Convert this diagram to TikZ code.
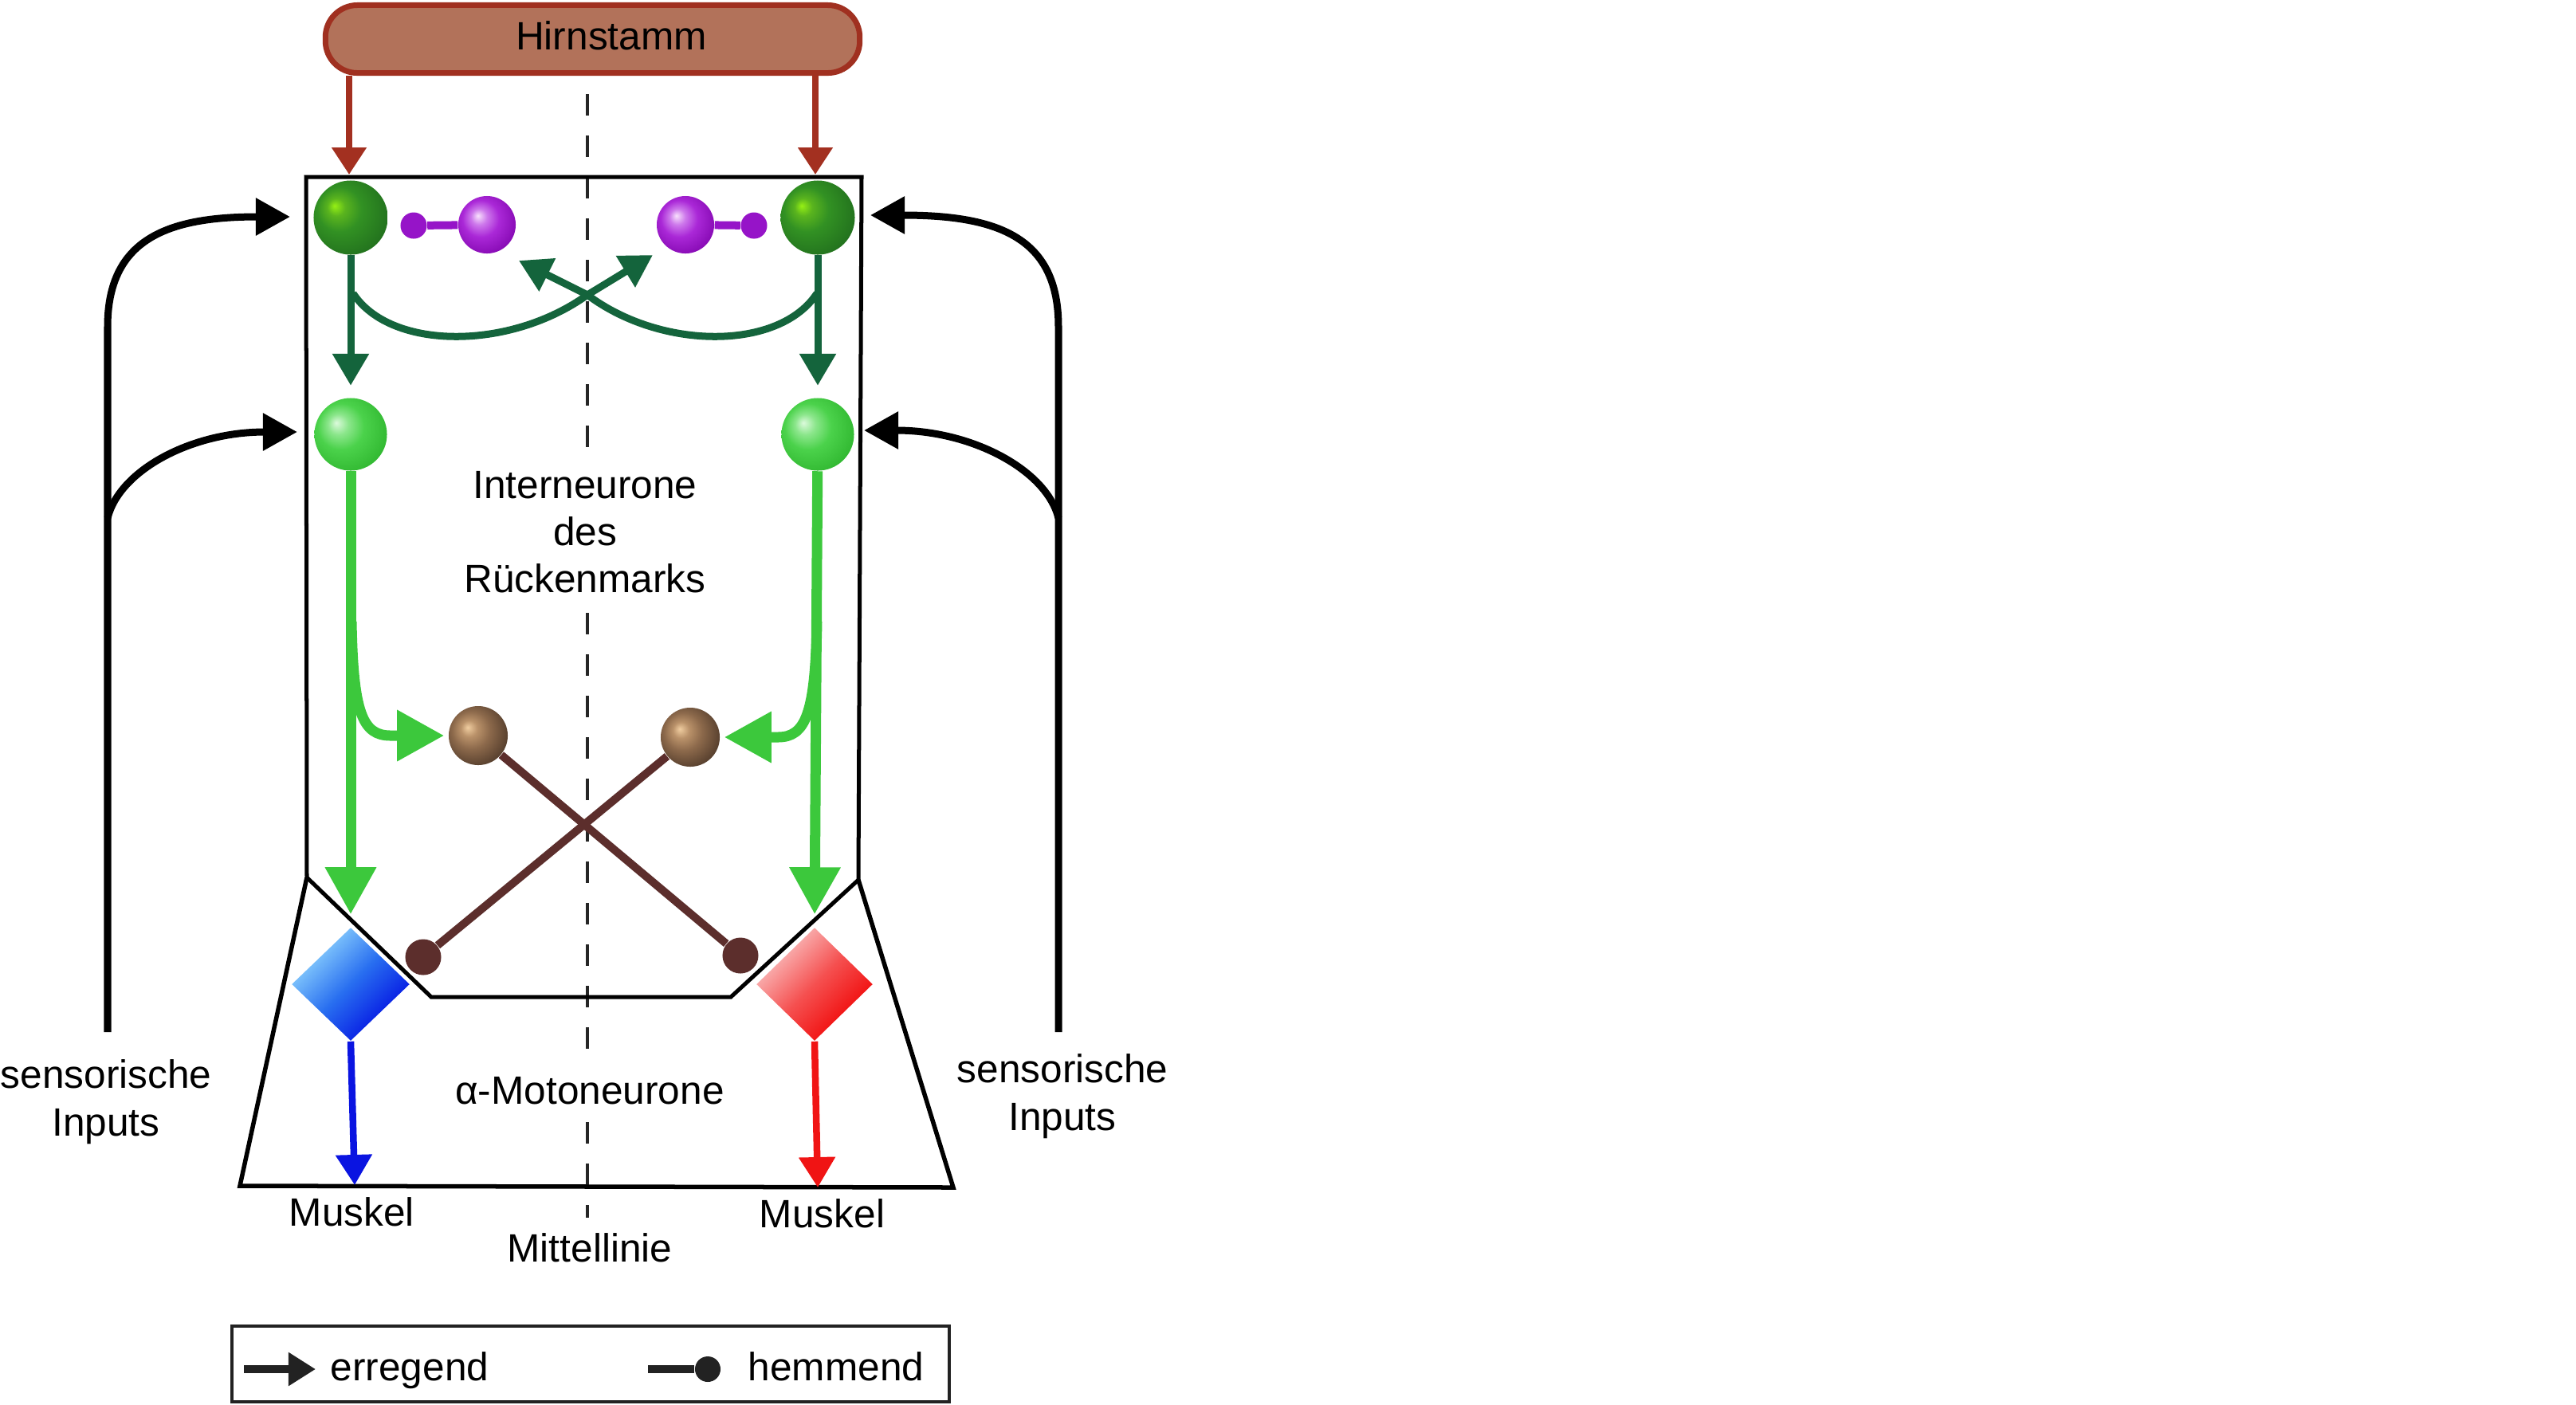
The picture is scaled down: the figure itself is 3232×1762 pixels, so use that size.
\documentclass[tikz,border=0pt]{standalone}
\usepackage{fontspec}
\setmainfont{Liberation Sans}
\usetikzlibrary{arrows.meta,shapes.geometric}

\definecolor{hirnfill}{RGB}{178,114,90}
\definecolor{hirnline}{RGB}{160,48,32}
\definecolor{redarrow}{RGB}{163,48,32}
\definecolor{dgline}{RGB}{20,100,60}
\definecolor{lgline}{RGB}{60,200,60}
\definecolor{purp}{RGB}{150,20,200}
\definecolor{brline}{RGB}{92,46,44}
\definecolor{bluec}{RGB}{10,20,225}
\definecolor{redc}{RGB}{240,20,20}
\definecolor{legc}{RGB}{34,34,34}
\definecolor{blA}{RGB}{150,220,255}
\definecolor{blB}{RGB}{40,110,240}
\definecolor{blC}{RGB}{0,10,225}
\definecolor{rdA}{RGB}{250,200,200}
\definecolor{rdB}{RGB}{245,80,80}
\definecolor{rdC}{RGB}{240,0,0}

\definecolor{dgA}{RGB}{150,240,20}
\definecolor{dgB}{RGB}{90,180,30}
\definecolor{dgC}{RGB}{50,145,35}
\definecolor{dgD}{RGB}{35,115,30}
\definecolor{lgA}{RGB}{220,250,220}
\definecolor{lgB}{RGB}{140,230,140}
\definecolor{lgC}{RGB}{75,210,75}
\definecolor{lgD}{RGB}{50,185,50}
\definecolor{puA}{RGB}{248,225,252}
\definecolor{puB}{RGB}{205,120,235}
\definecolor{puC}{RGB}{170,40,215}
\definecolor{puD}{RGB}{135,10,180}
\definecolor{brA}{RGB}{240,205,160}
\definecolor{brB}{RGB}{185,145,105}
\definecolor{brC}{RGB}{140,105,75}
\definecolor{brD}{RGB}{85,62,45}

\pgfdeclareradialshading{dgball}{\pgfpoint{-11bp}{8bp}}{color(0bp)=(dgA); color(6bp)=(dgB); color(15bp)=(dgC); color(30bp)=(dgD); color(50bp)=(dgD)}
\pgfdeclareradialshading{lgball}{\pgfpoint{-10bp}{8bp}}{color(0bp)=(lgA); color(7bp)=(lgB); color(16bp)=(lgC); color(30bp)=(lgD); color(50bp)=(lgD)}
\pgfdeclareradialshading{puball}{\pgfpoint{-8bp}{8bp}}{color(0bp)=(puA); color(7bp)=(puB); color(16bp)=(puC); color(30bp)=(puD); color(50bp)=(puD)}
\pgfdeclareradialshading{brball}{\pgfpoint{-9bp}{7bp}}{color(0bp)=(brA); color(7bp)=(brB); color(16bp)=(brC); color(30bp)=(brD); color(50bp)=(brD)}

\begin{document}
\begin{tikzpicture}[x=0.01cm,y=-0.01cm,
  lbl/.style={font=\fontsize{14.1pt}{17pt}\selectfont, inner sep=0pt, anchor=base, text=black},
  sphere/.style={circle, inner sep=0pt, minimum size=#1, draw=none},
  frame/.style={draw=black, line width=0.05cm, line join=miter},
  midline/.style={draw=black!85, line width=0.04cm, dash pattern=on 0.27cm off 0.25cm},
  redarr/.style={draw=redarrow, line width=0.08cm, -{Triangle[length=0.34cm,width=0.42cm]}},
  dgarr/.style={draw=dgline, line width=0.09cm, -{Triangle[length=0.40cm,width=0.44cm]}},
  lgarr/.style={draw=lgline, line width=0.13cm, -{Triangle[length=0.59cm,width=0.61cm]}},
  blarr/.style={draw=black, line width=0.09cm, -{Triangle[length=0.43cm,width=0.45cm]}},
  mnarr/.style={line width=0.085cm, -{Triangle[length=0.38cm,width=0.44cm]}},
  brlink/.style={draw=brline, line width=0.10cm},
]
\useasboundingbox[fill=white] (0,0) rectangle (3232,1762);

% midline
\draw[midline] (736.5,118) -- (736.5,571);
\draw[midline] (736.5,769) -- (736.5,1341);
\draw[midline] (736.5,1408) -- (736.5,1528);

% frames
\draw[frame] (384,222) -- (1081,222) -- (1077,1104) -- (917,1251) -- (541,1251) -- (385,1101) -- cycle;
\draw[frame, line width=0.055cm] (385,1101) -- (301,1488) -- (1196,1490) -- (1077,1104);

% Hirnstamm
\node[draw=hirnline, fill=hirnfill, line width=0.07cm, rounded corners=0.40cm,
      minimum width=6.70cm, minimum height=0.85cm, inner sep=0pt] (hirn) at (743.5,49) {};
\node[lbl] (hirnlbl) at (767,62) {Hirnstamm};

% neurons
\node[sphere=0.93cm, shade, shading=dgball] (dgL) at (440,273) {};
\node[sphere=0.93cm, shade, shading=dgball] (dgR) at (1026,273) {};
\node[sphere=0.91cm, shade, shading=lgball] (lgL) at (440,545) {};
\node[sphere=0.91cm, shade, shading=lgball] (lgR) at (1026,545) {};
\node[sphere=0.72cm, shade, shading=puball] (puL) at (611,282) {};
\node[sphere=0.72cm, shade, shading=puball] (puR) at (860,282) {};
\node[sphere=0.33cm, fill=purp] (psL) at (519,283) {};
\node[sphere=0.33cm, fill=purp] (psR) at (946,283) {};
\node[sphere=0.74cm, shade, shading=brball] (brL) at (600,923) {};
\node[sphere=0.74cm, shade, shading=brball] (brR) at (866,925) {};
\node[sphere=0.45cm, fill=brline] (ebR) at (929,1199) {};
\node[sphere=0.45cm, fill=brline] (ebL) at (531,1201) {};
\node[diamond, inner sep=0pt, minimum width=1.48cm, minimum height=1.42cm,
      top color=blA, bottom color=blC, middle color=blB, shading angle=45] (mnL) at (440,1235) {};
\node[diamond, inner sep=0pt, minimum width=1.46cm, minimum height=1.42cm,
      top color=rdA, bottom color=rdC, middle color=rdB, shading angle=45] (mnR) at (1022,1235) {};

% purple links
\draw[purp, line width=0.10cm] (psL) -- (puL);
\draw[purp, line width=0.10cm] (psR) -- (puR);

% brainstem arrows
\coordinate (rtL) at (438,219);
\coordinate (rtR) at (1023,219);
\draw[redarr] (hirn.south -| rtL) -- (rtL);
\draw[redarr] (hirn.south -| rtR) -- (rtR);

% dark green
\draw[dgarr, shorten >=0.15cm] (dgL) -- (lgL);
\draw[dgarr, shorten >=0.15cm] (dgR) -- (lgR);
\coordinate (xL) at (443,368);
\coordinate (xR) at (1025,368);
\coordinate (xm) at (737,370);
\coordinate (tipL) at (651,327);
\coordinate (tipR) at (819,320);
\draw[dgarr] (xL) .. controls (490,440) and (640,440) .. (xm) -- (tipR);
\draw[dgarr] (xR) .. controls (978,440) and (830,440) .. (xm) -- (tipL);

% light green
\draw[lgarr, shorten >=0.16cm] (lgL) -- (mnL.north);
\draw[lgarr, shorten >=0.16cm] (lgR) -- (mnR.north);
\coordinate (bL) at (441,780);
\coordinate (bR) at (1025,780);
\draw[lgarr, shorten >=0.05cm] (bL) .. controls (443,895) and (455,923) .. (490,923) -- (brL.west);
\draw[lgarr, shorten >=0.05cm] (bR) .. controls (1023,895) and (1011,925) .. (976,925) -- (brR.east);

% brown inhibitory
\draw[brlink] (brL) -- (ebR);
\draw[brlink] (brR) -- (ebL);

% motoneuron outputs
\coordinate (mtL) at (445,1487);
\coordinate (mtR) at (1026,1490);
\draw[mnarr, draw=bluec] (mnL.south) -- (mtL);
\draw[mnarr, draw=redc] (mnR.south) -- (mtR);

% sensory inputs
\coordinate (sL0) at (135,1295); \coordinate (sL1) at (135,410); \coordinate (sL2) at (135,650);
\coordinate (aL1) at (364,272); \coordinate (aL2) at (373,542);
\draw[blarr] (sL0) -- (sL1) .. controls (135,300) and (210,272) .. (aL1);
\draw[blarr] (sL2) .. controls (150,590) and (240,542) .. (aL2);
\coordinate (sR0) at (1328,1295); \coordinate (sR1) at (1328,410); \coordinate (sR2) at (1328,650);
\coordinate (aR1) at (1092,270); \coordinate (aR2) at (1084,540);
\draw[blarr] (sR0) -- (sR1) .. controls (1328,300) and (1256,270) .. (aR1);
\draw[blarr] (sR2) .. controls (1313,590) and (1220,540) .. (aR2);

% labels
\node[lbl] (t1) at (734,625) {Interneurone};
\node[lbl] (t2) at (734,684) {des};
\node[lbl] (t3) at (734,743) {Rückenmarks};
\node[lbl] (t4) at (740,1385) {α-Motoneurone};
\node[lbl] (t5) at (133,1365) {sensorische};
\node[lbl] (t6) at (133,1425) {Inputs};
\node[lbl] (t7) at (1333,1358) {sensorische};
\node[lbl] (t8) at (1333,1418) {Inputs};
\node[lbl] (t9) at (441.5,1538) {Muskel};
\node[lbl] (t10) at (1031.5,1540) {Muskel};
\node[lbl] (t11) at (740,1583) {Mittellinie};

% legend
\node[draw=legc, line width=0.04cm, minimum width=9.00cm, minimum height=0.95cm, inner sep=0pt] (legend) at (741,1711.5) {};
\coordinate (le0) at (306,1718); \coordinate (le1) at (396,1718);
\draw[draw=legc, line width=0.10cm, -{Triangle[length=0.34cm,width=0.40cm]}] (le0) -- (le1);
\node[lbl, anchor=base west] (leg1) at (414,1732) {erregend};
\coordinate (lh0) at (813,1718);
\node[circle, inner sep=0pt, minimum width=0.30cm, minimum height=0.32cm, fill=legc] (lhball) at (888,1718) {};
\draw[draw=legc, line width=0.10cm] (lh0) -- (lhball);
\node[lbl, anchor=base west] (leg2) at (938,1732) {hemmend};
\end{tikzpicture}
\end{document}
